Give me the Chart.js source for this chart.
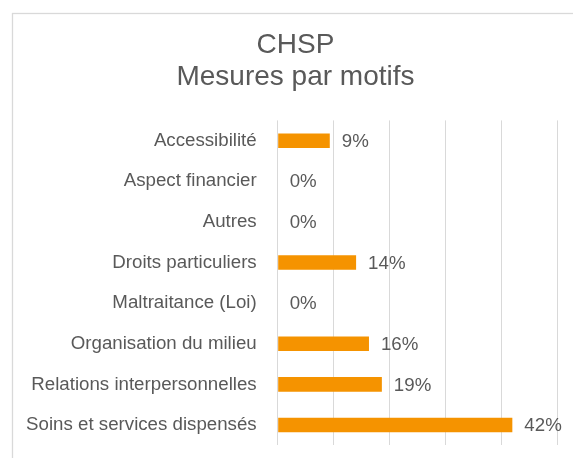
<!DOCTYPE html>
<html>
<head>
<meta charset="utf-8">
<script src="https://cdn.jsdelivr.net/npm/chart.js@4"></script>
<style>
  html, body { margin: 0; padding: 0; background: #ffffff; }
  #wrap { width: 573px; height: 458px; position: relative; }
</style>
</head>
<body>
<div id="wrap"><canvas id="c" width="573" height="458"></canvas></div>
<script>
// ---- data ----
const titleLines = ["CHSP", "Mesures par motifs"];
const categories = [
  "Accessibilité",
  "Aspect financier",
  "Autres",
  "Droits particuliers",
  "Maltraitance (Loi)",
  "Organisation du milieu",
  "Relations interpersonnelles",
  "Soins et services dispensés"
];
const percentValues = [9.3, 0, 0, 14.0, 0, 16.3, 18.6, 41.9];
const axisMax = 50;
const axisStep = 10;

const FONT = '"Liberation Sans", Arial, sans-serif';
const TEXT = '#595959';
const GRID = '#d9d9d9';
const BAR = '#f59300';

const framePlugin = {
  id: 'frame',
  afterLayout(chart) {
    // centre the title over x = 295.5 as in the reference
    if (chart.titleBlock) {
      chart.titleBlock.left = 33.3;
    }
  },
  beforeDraw(chart) {
    const ctx = chart.ctx;
    ctx.save();
    ctx.fillStyle = '#ffffff';
    ctx.fillRect(0, 0, chart.width, chart.height);
    ctx.strokeStyle = GRID;
    ctx.lineWidth = 1.3;
    ctx.strokeRect(12.5, 13.5, chart.width + 10, chart.height + 10);
    ctx.restore();
  }
};

const labelPlugin = {
  id: 'valueLabels',
  afterDatasetsDraw(chart) {
    const ctx = chart.ctx;
    const meta = chart.getDatasetMeta(0);
    ctx.save();
    ctx.font = '18.7px ' + FONT;
    ctx.fillStyle = TEXT;
    ctx.textAlign = 'left';
    ctx.textBaseline = 'middle';
    meta.data.forEach((bar, i) => {
      const v = chart.data.datasets[0].data[i];
      ctx.fillText(Math.round(v) + '%', bar.x + 12, bar.y + 1);
    });
    ctx.restore();
  }
};

new Chart(document.getElementById('c'), {
  type: 'bar',
  data: {
    labels: categories,
    datasets: [{
      data: percentValues,
      backgroundColor: BAR,
      borderWidth: 0,
      categoryPercentage: 1,
      barPercentage: 0.36
    }]
  },
  options: {
    indexAxis: 'y',
    responsive: false,
    animation: false,
    layout: { padding: { left: 13, right: 15.3, top: 0, bottom: 12.7 } },
    plugins: {
      legend: { display: false },
      tooltip: { enabled: false },
      title: {
        display: true,
        text: titleLines,
        color: TEXT,
        font: { family: FONT, size: 28, weight: 'normal', lineHeight: 1.15 },
        padding: { top: 28.9, bottom: 27.1 }
      }
    },
    scales: {
      x: {
        min: 0,
        max: axisMax,
        ticks: { display: false, stepSize: axisStep },
        grid: { color: GRID, lineWidth: 1, drawTicks: false },
        border: { display: false },
        afterFit(scale) { scale.height = 0; scale.paddingLeft = 0; scale.paddingRight = 0; }
      },
      y: {
        ticks: {
          color: TEXT,
          font: { family: FONT, size: 18.7 },
          padding: 21,
          autoSkip: false
        },
        grid: { display: false, drawTicks: false },
        border: { display: false },
        afterFit(scale) {
          scale.width = 264.7;
          scale.paddingTop = 0;
          scale.paddingBottom = 0;
        }
      }
    }
  },
  plugins: [framePlugin, labelPlugin]
});
</script>
</body>
</html>
